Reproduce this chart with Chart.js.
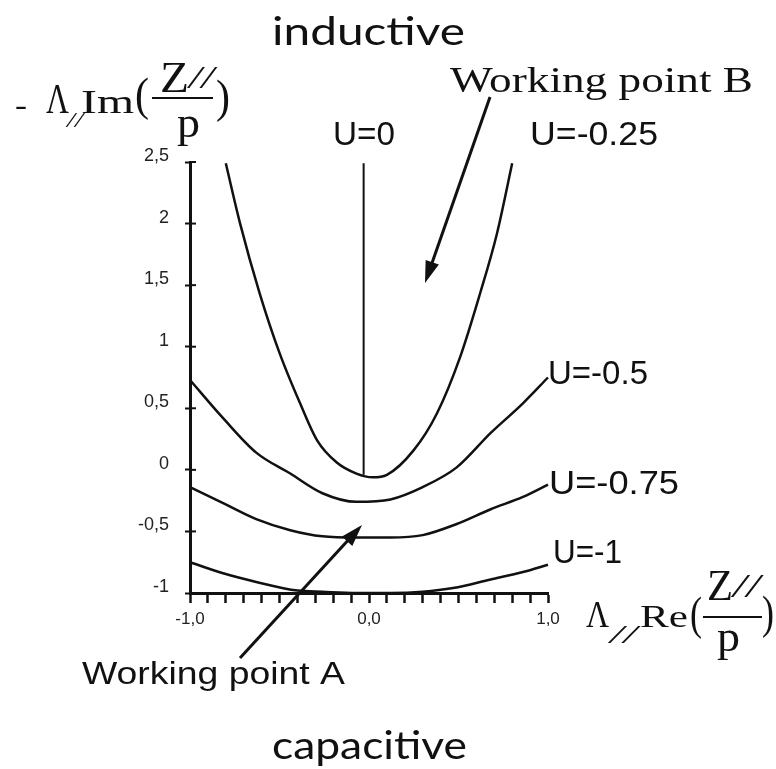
<!DOCTYPE html>
<html>
<head>
<meta charset="utf-8">
<script src="https://cdn.jsdelivr.net/npm/chart.js@4.4.1/dist/chart.umd.min.js"></script>
<style>
  body { margin: 0; background: #fff; }
</style>
</head>
<body>
<canvas id="chart" width="776" height="769"></canvas>
<script>
// curves (x = Λ Re(Z/p), y = -Λ Im(Z/p))
const xU0 = [-0.03, -0.03];
const yU0 = [2.49, -0.04];

const xU025 = [-0.80, -0.72, -0.61, -0.50, -0.385, -0.29, -0.18, -0.07, 0.02, 0.10, 0.25, 0.38, 0.51, 0.62, 0.715, 0.80];
const yU025 = [2.49, 2.00, 1.43, 0.95, 0.54, 0.24, 0.06, -0.03, -0.06, -0.04, 0.16, 0.46, 0.92, 1.43, 1.92, 2.49];

const xU05 = [-1.0, -0.815, -0.63, -0.44, -0.26, -0.07, 0.12, 0.30, 0.49, 0.68, 0.86, 1.0];
const yU05 = [0.73, 0.42, 0.14, -0.03, -0.19, -0.26, -0.24, -0.14, 0.02, 0.30, 0.54, 0.75];

const xU075 = [-1.0, -0.815, -0.63, -0.44, -0.26, -0.07, 0.12, 0.30, 0.49, 0.68, 0.86, 1.0];
const yU075 = [-0.14, -0.27, -0.40, -0.49, -0.54, -0.55, -0.55, -0.53, -0.44, -0.32, -0.22, -0.12];

const xU1 = [-1.0, -0.815, -0.63, -0.40, -0.26, -0.07, 0.12, 0.30, 0.47, 0.68, 0.86, 1.0];
const yU1 = [-0.75, -0.84, -0.91, -0.98, -0.99, -1.0, -1.0, -0.99, -0.96, -0.89, -0.83, -0.77];

// tick labels (decimal comma as in the original)
const xLabelValues = [-1, 0, 1];
const xLabelText = ["-1,0", "0,0", "1,0"];
const yLabelValues = [-1, -0.5, 0, 0.5, 1, 1.5, 2, 2.5];
const yLabelText = ["-1", "-0,5", "0", "0,5", "1", "1,5", "2", "2,5"];

function series(xs, ys) {
    return xs.map((x, i) => ({ x: x, y: ys[i] }));
}

function pickLabel(values, texts, v) {
    const i = values.findIndex(a => Math.abs(a - v) < 1e-6);
    return i >= 0 ? texts[i] : "";
}

// draw text squeezed/stretched to a given width
function fitText(ctx, text, font, x, y, w) {
    ctx.save();
    ctx.font = font;
    const m = ctx.measureText(text).width;
    ctx.translate(x, y);
    ctx.scale(w / m, 1);
    ctx.fillText(text, 0, 0);
    ctx.restore();
}

function arrow(ctx, x1, y1, x2, y2) {
    const a = Math.atan2(y2 - y1, x2 - x1);
    const len = 22, half = 7;
    ctx.save();
    ctx.strokeStyle = "#111";
    ctx.fillStyle = "#111";
    ctx.lineWidth = 3;
    ctx.beginPath();
    ctx.moveTo(x1, y1);
    ctx.lineTo(x2 - Math.cos(a) * len * 0.8, y2 - Math.sin(a) * len * 0.8);
    ctx.stroke();
    ctx.beginPath();
    ctx.moveTo(x2, y2);
    ctx.lineTo(x2 - Math.cos(a) * len - Math.sin(a) * half, y2 - Math.sin(a) * len + Math.cos(a) * half);
    ctx.lineTo(x2 - Math.cos(a) * len + Math.sin(a) * half, y2 - Math.sin(a) * len - Math.cos(a) * half);
    ctx.closePath();
    ctx.fill();
    ctx.restore();
}

const serif = '"Liberation Serif", "Times New Roman", serif';
const sans = '"Liberation Sans", Arial, sans-serif';

const annotations = {
    id: "annotations",
    afterDraw(chart) {
        const ctx = chart.ctx;
        const y = chart.scales.y;
        const area = chart.chartArea;

        // inner half of the y ticks
        ctx.save();
        ctx.strokeStyle = "#111";
        ctx.lineWidth = 2;
        y.ticks.forEach(t => {
            const py = y.getPixelForValue(t.value);
            ctx.beginPath();
            ctx.moveTo(area.left, py);
            ctx.lineTo(area.left + 6, py);
            ctx.stroke();
        });
        ctx.restore();

        ctx.save();
        ctx.fillStyle = "#111";
        ctx.textBaseline = "alphabetic";

        // top / bottom words
        fitText(ctx, "inductive", '38px Lato, "Open Sans", sans-serif', 272, 45, 193);
        fitText(ctx, "capacitive", '38px Lato, "Open Sans", sans-serif', 272, 759, 195);

        // curve labels
        fitText(ctx, "U=0", "34px " + sans, 333, 145, 62);
        fitText(ctx, "U=-0.25", "34px " + sans, 530, 145, 128);
        fitText(ctx, "U=-0.5", "34px " + sans, 548, 384, 100);
        fitText(ctx, "U=-0.75", "34px " + sans, 549, 494, 130);
        fitText(ctx, "U=-1", "34px " + sans, 553, 563, 69);

        // working points
        fitText(ctx, "Working point B", "36px " + serif, 450, 92, 303);
        fitText(ctx, "Working point A", "31px " + sans, 82, 684, 263);
        arrow(ctx, 490, 97, 425, 283);
        arrow(ctx, 240, 658, 362, 525);

        // y axis title: - Λ// Im( Z// / p )
        fitText(ctx, "-", "30px " + serif, 15, 115, 12);
        fitText(ctx, "Λ", "42px " + serif, 46, 113, 23);
        fitText(ctx, "//", "italic 22px " + serif, 67, 127, 16);
        fitText(ctx, "Im", "34px " + serif, 81, 113, 53);
        fitText(ctx, "(", "46px " + serif, 135, 110, 14);
        fitText(ctx, "Z", "44px " + serif, 160, 92, 29);
        fitText(ctx, "//", "italic 32px " + serif, 189, 88, 25);
        fitText(ctx, "p", "44px " + serif, 177, 137, 23);
        fitText(ctx, ")", "46px " + serif, 216, 112, 14);
        ctx.fillRect(152, 97, 61, 2);

        // x axis title: Λ// Re( Z// / p )
        fitText(ctx, "Λ", "38px " + serif, 586, 627, 23);
        fitText(ctx, "//", "italic 26px " + serif, 610, 643, 27);
        fitText(ctx, "Re", "32px " + serif, 640, 627, 48);
        fitText(ctx, "(", "46px " + serif, 690, 629, 12);
        fitText(ctx, "Z", "44px " + serif, 707, 600, 26);
        fitText(ctx, "//", "italic 34px " + serif, 733, 597, 27);
        fitText(ctx, "p", "44px " + serif, 717, 651, 23);
        fitText(ctx, ")", "46px " + serif, 762, 628, 12);
        ctx.fillRect(703, 616, 59, 2);

        ctx.restore();
    }
};

const lineStyle = {
    borderColor: "#111",
    borderWidth: 2.5,
    pointRadius: 0,
    fill: false,
    cubicInterpolationMode: "monotone",
    clip: false
};

new Chart(document.getElementById("chart"), {
    type: "line",
    data: {
        datasets: [
            Object.assign({ label: "U=0", data: series(xU0, yU0) }, lineStyle, { borderWidth: 2, cubicInterpolationMode: "default", tension: 0 }),
            Object.assign({ label: "U=-0.25", data: series(xU025, yU025) }, lineStyle),
            Object.assign({ label: "U=-0.5", data: series(xU05, yU05) }, lineStyle),
            Object.assign({ label: "U=-0.75", data: series(xU075, yU075) }, lineStyle),
            Object.assign({ label: "U=-1", data: series(xU1, yU1) }, lineStyle)
        ]
    },
    options: {
        responsive: false,
        animation: false,
        devicePixelRatio: 1,
        layout: {
            padding: { left: 130, right: 228, top: 162, bottom: 116 }
        },
        plugins: {
            legend: { display: false },
            tooltip: { enabled: false }
        },
        scales: {
            x: {
                type: "linear",
                min: -1,
                max: 1,
                afterFit: s => { s.height = 60; },
                ticks: {
                    stepSize: 0.1,
                    autoSkip: false,
                    maxRotation: 0,
                    padding: 6,
                    color: "#222",
                    font: { family: "Liberation Sans", size: 17 },
                    callback: v => pickLabel(xLabelValues, xLabelText, v)
                },
                grid: { drawOnChartArea: false, tickLength: 10, tickWidth: 2.5, color: "#111" },
                border: { color: "#111", width: 3 }
            },
            y: {
                type: "linear",
                min: -1,
                max: 2.5,
                afterFit: s => { s.width = 60; },
                ticks: {
                    stepSize: 0.5,
                    padding: 16,
                    labelOffset: -6,
                    color: "#222",
                    font: { family: "Liberation Sans", size: 18 },
                    callback: v => pickLabel(yLabelValues, yLabelText, v)
                },
                grid: { drawOnChartArea: false, tickLength: 5, tickWidth: 2, color: "#111" },
                border: { color: "#111", width: 3 }
            }
        }
    },
    plugins: [annotations]
});
</script>
</body>
</html>
